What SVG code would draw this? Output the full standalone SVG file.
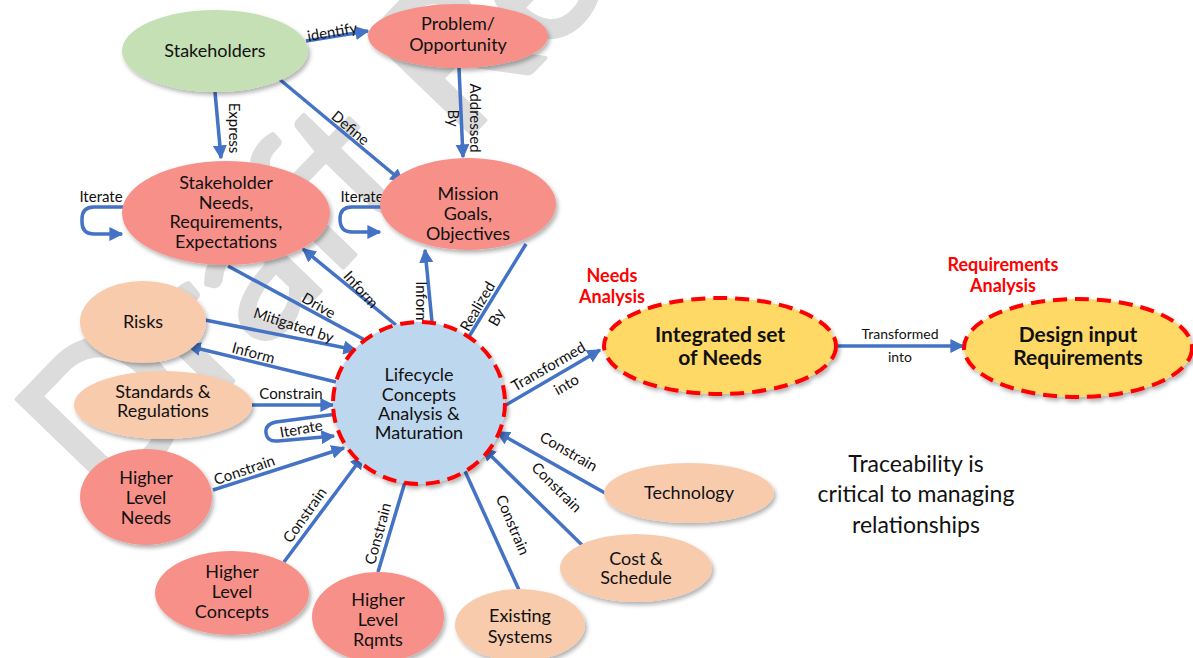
<svg xmlns="http://www.w3.org/2000/svg" width="1193" height="658" viewBox="0 0 1193 658">
<defs>
<style>
.t{font-family:Lato,"Liberation Sans",sans-serif;font-size:18px;fill:#111;text-anchor:middle}
.b{font-weight:bold;font-size:21px}
.l{font-family:Lato,"Liberation Sans",sans-serif;font-size:15px;fill:#111;text-anchor:middle}
.s{font-size:14px}
.r{font-family:Lato,"Liberation Sans",sans-serif;font-size:18px;font-weight:bold;fill:#ff0000;text-anchor:middle}
.e{fill:none;stroke:#4472c4;stroke-width:3.5;marker-end:url(#ah)}
.salmon{fill:#f8908a}
.peach{fill:#f8cbad}
.dash{stroke:#ff0000;stroke-width:4;stroke-dasharray:14 8}
</style>
<marker id="ah" viewBox="0 0 10 10" refX="9" refY="5" markerWidth="4" markerHeight="4" orient="auto"><path d="M0,0 L10,5 L0,10 z" fill="#4472c4"/></marker>
<filter id="sh" x="-10%" y="-10%" width="125%" height="130%"><feDropShadow dx="2" dy="3" stdDeviation="2" flood-color="#000" flood-opacity="0.3"/></filter>
</defs>
<rect width="1193" height="658" fill="#fff"/>
<g id="watermark"><text transform="translate(107,512) rotate(-46)" font-family="Lato,'Liberation Sans',sans-serif" font-size="200" fill="#dcdcdc" stroke="#dcdcdc" stroke-width="4" stroke-linejoin="round">Draft Re</text></g>

<g id="connectors">
<path class="e" d="M306,41 L368,31"/>
<path class="e" d="M215,92 L221,158"/>
<path class="e" d="M278,78 L403,182"/>
<path class="e" d="M459,68 L463,157"/>
<path class="e" d="M124,207 H94 Q82,207 82,219 V222 Q82,234 94,234 H122"/>
<path class="e" d="M381,207 H352 Q340,207 340,219 Q340,232 352,232 H380"/>
<path class="e" d="M228,266 L387,352"/>
<path class="e" d="M396,325 L303,249"/>
<path class="e" d="M432,322 L425,250"/>
<path class="e" d="M526,244 L462,348"/>
<path class="e" d="M205,320 L356,350"/>
<path class="e" d="M336,382 L188,346"/>
<path class="e" d="M252,405 L333,405"/>
<path class="e" d="M337,414 L276,422 Q265,424 266,433 Q267,442 278,441 L334,436"/>
<path class="e" d="M213,490 L344,448"/>
<path class="e" d="M284,562 L363,456"/>
<path class="e" d="M378,572 L411,462"/>
<path class="e" d="M519,590 L459,458"/>
<path class="e" d="M582,545 L483,448"/>
<path class="e" d="M605,493 L497,432"/>
<path class="e" d="M506,405 L600,350"/>
<path class="e" d="M838,346 L963,346"/>
</g>

<g id="edge-labels">
<text class="l" transform="translate(333,37) rotate(-10)">identify</text>
<text class="l" transform="translate(229,128) rotate(90)">Express</text>
<text class="l" transform="translate(347,132) rotate(40)">Define</text>
<text class="l" transform="translate(470,118) rotate(90)">Addressed</text>
<text class="l" transform="translate(448,118) rotate(90)">By</text>
<text class="l" x="101" y="202">Iterate</text>
<text class="l" x="362" y="202">Iterate</text>
<text class="l" transform="translate(316,310) rotate(30)">Drive</text>
<text class="l" transform="translate(357,293) rotate(48)">Inform</text>
<text class="l" transform="translate(416,303) rotate(90)">Inform</text>
<text class="l" transform="translate(482,309) rotate(-60)">Realized</text>
<text class="l" transform="translate(501,320) rotate(-60)">By</text>
<text class="l" transform="translate(292,330) rotate(18)">Mitigated by</text>
<text class="l" transform="translate(252,358) rotate(15)">Inform</text>
<text class="l" x="291" y="399">Constrain</text>
<text class="l" transform="translate(302,434) rotate(-10)">Iterate</text>
<text class="l" transform="translate(246,475) rotate(-19)">Constrain</text>
<text class="l" transform="translate(309,518) rotate(-55)">Constrain</text>
<text class="l" transform="translate(383,535) rotate(-75)">Constrain</text>
<text class="l" transform="translate(508,527) rotate(67)">Constrain</text>
<text class="l" transform="translate(553,491) rotate(45)">Constrain</text>
<text class="l" transform="translate(566,456) rotate(30)">Constrain</text>
<text class="l" transform="translate(551,371) rotate(-30)">Transformed</text>
<text class="l" transform="translate(569,389) rotate(-30)">into</text>
<text class="l s" x="900" y="339">Transformed</text>
<text class="l s" x="900" y="362">into</text>
</g>

<g id="stakeholders"><ellipse cx="215" cy="51" rx="93" ry="41" fill="#c5e0b4" filter="url(#sh)"/><text class="t" x="215" y="57">Stakeholders</text></g>
<g id="problem"><ellipse cx="458" cy="36" rx="90" ry="32" class="salmon" filter="url(#sh)"/><text class="t" x="458" y="30">Problem/</text><text class="t" x="458" y="51">Opportunity</text></g>
<g id="stakeholder-needs"><ellipse cx="226" cy="213" rx="104" ry="52" class="salmon" filter="url(#sh)"/><text class="t" x="226" y="189">Stakeholder</text><text class="t" x="226" y="209">Needs,</text><text class="t" x="226" y="228">Requirements,</text><text class="t" x="226" y="248">Expectations</text></g>
<g id="mission"><ellipse cx="468" cy="204" rx="88" ry="46" class="salmon" filter="url(#sh)"/><text class="t" x="468" y="200">Mission</text><text class="t" x="468" y="220">Goals,</text><text class="t" x="468" y="240">Objectives</text></g>
<g id="risks"><ellipse cx="143" cy="322" rx="63" ry="41" class="peach" filter="url(#sh)"/><text class="t" x="143" y="328">Risks</text></g>
<g id="standards"><ellipse cx="163" cy="405" rx="89" ry="34" class="peach" filter="url(#sh)"/><text class="t" x="163" y="398">Standards &amp;</text><text class="t" x="163" y="417">Regulations</text></g>
<g id="lifecycle"><ellipse cx="419" cy="403" rx="86" ry="81" fill="#bdd7ee" class="dash" filter="url(#sh)"/><text class="t" x="419" y="381">Lifecycle</text><text class="t" x="419" y="401">Concepts</text><text class="t" x="419" y="420">Analysis &amp;</text><text class="t" x="419" y="439">Maturation</text></g>
<g id="hl-needs"><ellipse cx="146" cy="497" rx="66" ry="48" class="salmon" filter="url(#sh)"/><text class="t" x="146" y="484">Higher</text><text class="t" x="146" y="504">Level</text><text class="t" x="146" y="524">Needs</text></g>
<g id="hl-concepts"><ellipse cx="232" cy="593" rx="77" ry="42" class="salmon" filter="url(#sh)"/><text class="t" x="232" y="578">Higher</text><text class="t" x="232" y="598">Level</text><text class="t" x="232" y="618">Concepts</text></g>
<g id="hl-rqmts"><ellipse cx="378" cy="617" rx="66" ry="45" class="salmon" filter="url(#sh)"/><text class="t" x="378" y="606">Higher</text><text class="t" x="378" y="626">Level</text><text class="t" x="378" y="646">Rqmts</text></g>
<g id="existing"><ellipse cx="520" cy="625" rx="65" ry="36" class="peach" filter="url(#sh)"/><text class="t" x="520" y="622">Existing</text><text class="t" x="520" y="643">Systems</text></g>
<g id="cost"><ellipse cx="636" cy="568" rx="76" ry="34" class="peach" filter="url(#sh)"/><text class="t" x="636" y="565">Cost &amp;</text><text class="t" x="636" y="584">Schedule</text></g>
<g id="technology"><ellipse cx="689" cy="493" rx="85" ry="30" class="peach" filter="url(#sh)"/><text class="t" x="689" y="499">Technology</text></g>
<g id="integrated"><ellipse cx="720" cy="346" rx="116" ry="48" fill="#ffd966" class="dash" filter="url(#sh)"/><text class="t b" x="720" y="342">Integrated set</text><text class="t b" x="720" y="365">of Needs</text></g>
<g id="design-input"><ellipse cx="1078" cy="348" rx="114" ry="49" fill="#ffd966" class="dash" filter="url(#sh)"/><text class="t b" x="1078" y="342">Design input</text><text class="t b" x="1078" y="365">Requirements</text></g>

<g id="annotations">
<text class="r" x="612" y="282">Needs</text>
<text class="r" x="612" y="303">Analysis</text>
<text class="r" x="1003" y="271">Requirements</text>
<text class="r" x="1003" y="292">Analysis</text>
<text class="t" style="font-size:23px" x="916" y="472">Traceability is</text>
<text class="t" style="font-size:23px" x="916" y="502">critical to managing</text>
<text class="t" style="font-size:23px" x="916" y="533">relationships</text>
</g>
</svg>
